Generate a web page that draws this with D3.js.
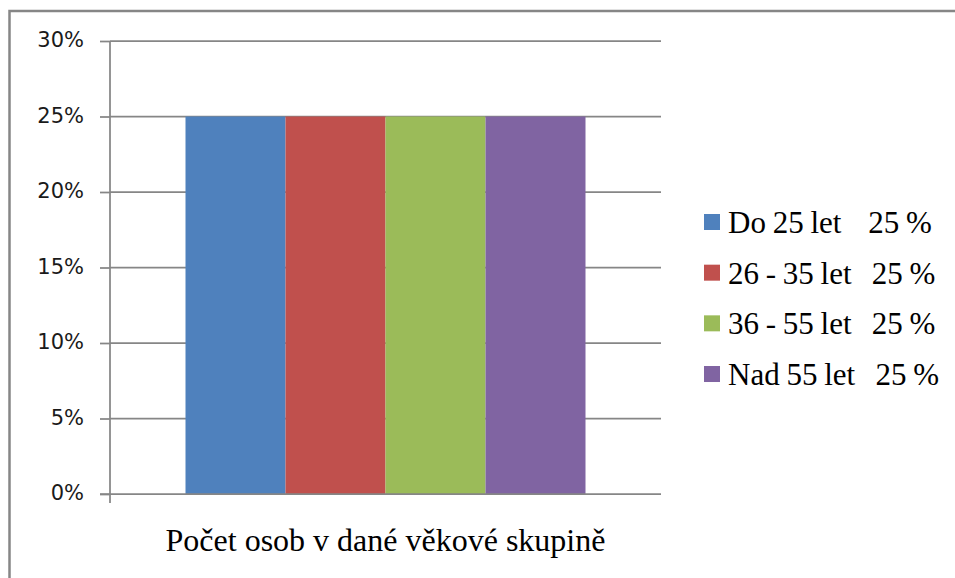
<!DOCTYPE html>
<html>
<head>
<meta charset="utf-8">
<script src="https://cdn.jsdelivr.net/npm/d3@7"></script>
<style>
  html, body { margin: 0; padding: 0; background: #fff; }
  svg { display: block; }
  text { white-space: pre; }
  .serif { font-family: "Liberation Serif", "Times New Roman", "DejaVu Serif", serif; }
  .sans { font-family: "DejaVu Sans", Verdana, sans-serif; }
</style>
</head>
<body>
<svg id="chart" width="955" height="578"></svg>
<script>
const categories = ["Počet osob v dané věkové skupině"];
const seriesNames = ["Do 25 let", "26 - 35 let", "36 - 55 let", "Nad 55 let"];
const seriesValues = [0.25, 0.25, 0.25, 0.25];
const legendLabels = ["Do 25 let    25 %", "26 - 35 let   25 %", "36 - 55 let   25 %", "Nad 55 let   25 %"];
const seriesColors = ["#4F81BD", "#C0504D", "#9BBB59", "#8064A2"];
const yTicks = [0, 0.05, 0.10, 0.15, 0.20, 0.25, 0.30];

const svg = d3.select("#chart");
const gridColor = "#868686";

svg.append("path")
  .attr("d", "M9.5,1000 L9.5,11 L1000,11")
  .attr("fill", "none")
  .attr("stroke", gridColor)
  .attr("stroke-width", 2.5);

const plot = { left: 110, right: 661, top: 41, bottom: 494 };

const y = d3.scaleLinear().domain([0, 0.3]).range([plot.bottom, plot.top]);
const x0 = d3.scaleBand().domain(categories).range([plot.left, plot.right])
  .paddingInner(0).paddingOuter(0.18875);
const x1 = d3.scaleBand().domain(seriesNames).range([0, x0.bandwidth()]).padding(0);

svg.append("g").selectAll("line").data(yTicks.filter(d => d > 0)).join("line")
  .attr("x1", plot.left).attr("x2", plot.right)
  .attr("y1", d => y(d)).attr("y2", d => y(d))
  .attr("stroke", gridColor).attr("stroke-width", 1.75);

const g = svg.append("g");
categories.forEach(cat => {
  g.selectAll(null).data(seriesNames).join("rect")
    .attr("x", s => x0(cat) + x1(s))
    .attr("width", x1.bandwidth())
    .attr("y", (s, i) => y(seriesValues[i]))
    .attr("height", (s, i) => y(0) - y(seriesValues[i]))
    .attr("fill", (s, i) => seriesColors[i]);
});

const yAxis = d3.axisLeft(y).tickValues(yTicks).tickFormat(d3.format(".0%"))
  .tickSize(10).tickPadding(16);
const ya = svg.append("g").attr("transform", `translate(${plot.left},0)`).call(yAxis);
ya.attr("font-family", null).attr("font-size", null);
ya.select(".domain").remove();
ya.selectAll(".tick line").attr("stroke", gridColor).attr("stroke-width", 1.75);
ya.selectAll(".tick text")
  .attr("class", "sans")
  .attr("font-size", 21)
  .attr("fill", "#1a1a1a")
  .attr("dy", "0.28em");

svg.append("line")
  .attr("x1", plot.left).attr("x2", plot.left)
  .attr("y1", plot.top).attr("y2", plot.bottom + 9)
  .attr("stroke", gridColor).attr("stroke-width", 1.75);
svg.append("line")
  .attr("x1", plot.left - 10).attr("x2", plot.right)
  .attr("y1", plot.bottom).attr("y2", plot.bottom)
  .attr("stroke", gridColor).attr("stroke-width", 1.75);

svg.append("g").selectAll("text").data(categories).join("text")
  .attr("class", "serif")
  .attr("x", d => x0(d) + x0.bandwidth() / 2)
  .attr("y", 551)
  .attr("text-anchor", "middle")
  .attr("font-size", 32)
  .attr("fill", "#000")
  .text(d => d);

const legend = svg.append("g").attr("transform", "translate(704,222)");
const items = legend.selectAll("g").data(legendLabels).join("g")
  .attr("transform", (d, i) => `translate(0,${i * 50.67})`);
items.append("rect")
  .attr("x", 0).attr("y", -8).attr("width", 16).attr("height", 16)
  .attr("fill", (d, i) => seriesColors[i]);
items.append("text")
  .attr("class", "serif")
  .attr("x", 24).attr("y", 11)
  .attr("font-size", 31)
  .attr("word-spacing", "-1px")
  .attr("fill", "#000")
  .text(d => d);
</script>
</body>
</html>
